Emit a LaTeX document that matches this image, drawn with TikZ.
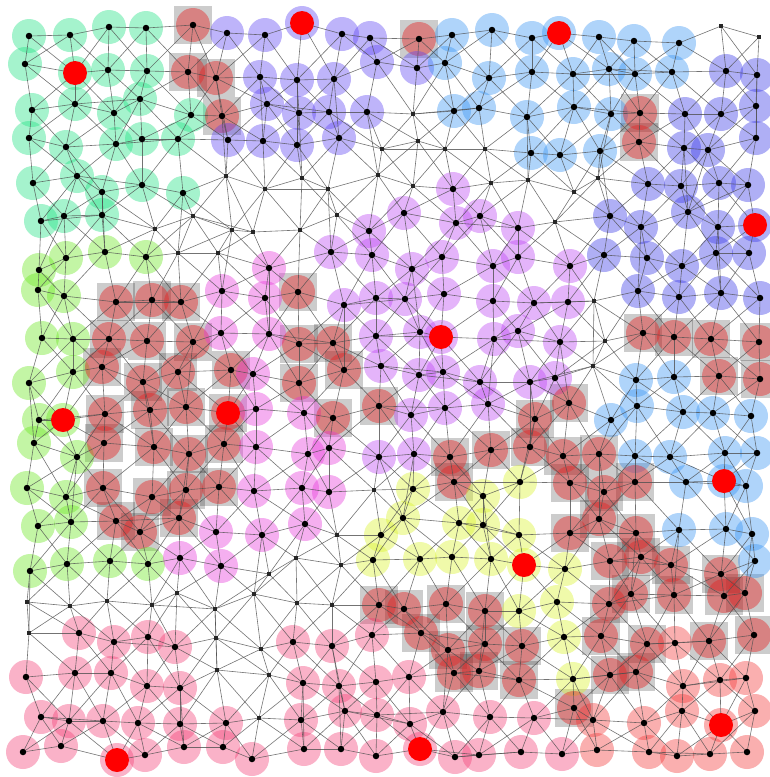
\documentclass[tikz,border=0pt]{standalone}
\definecolor{cG}{RGB}{30,225,130}
\definecolor{cL}{RGB}{105,230,30}
\definecolor{cP}{RGB}{92,67,242}
\definecolor{cB}{RGB}{55,147,242}
\definecolor{cD}{RGB}{55,55,230}
\definecolor{cQ}{RGB}{230,55,217}
\definecolor{cM}{RGB}{187,67,242}
\definecolor{cY}{RGB}{217,242,42}
\definecolor{cK}{RGB}{242,62,117}
\definecolor{cS}{RGB}{242,55,55}
\definecolor{cR}{RGB}{230,40,40}
\definecolor{lnkc}{RGB}{80,80,80}
\pgfdeclarelayer{sq}\pgfdeclarelayer{halo}\pgfdeclarelayer{lnklayer}\pgfdeclarelayer{top}
\pgfsetlayers{sq,halo,lnklayer,main,top}
\tikzset{
 bigdot/.style={circle,fill=black,inner sep=0pt,minimum size=6.5pt},
 smalldot/.style={rectangle,fill=black!85,inner sep=0pt,minimum size=3.6pt},
 dG/.style=bigdot, dL/.style=bigdot, dP/.style=bigdot, dB/.style=bigdot, dD/.style=bigdot,
 dQ/.style=bigdot, dM/.style=bigdot, dY/.style=bigdot, dK/.style=bigdot, dS/.style=bigdot,
 dR/.style=bigdot, dN/.style=smalldot,
 hG/.style={fill=cG,fill opacity=0.4}, hL/.style={fill=cL,fill opacity=0.4},
 hP/.style={fill=cP,fill opacity=0.4}, hB/.style={fill=cB,fill opacity=0.4},
 hD/.style={fill=cD,fill opacity=0.4}, hQ/.style={fill=cQ,fill opacity=0.4},
 hM/.style={fill=cM,fill opacity=0.4}, hY/.style={fill=cY,fill opacity=0.4},
 hK/.style={fill=cK,fill opacity=0.4}, hS/.style={fill=cS,fill opacity=0.4},
 hR/.style={fill=cR,fill opacity=0.45},
 graysq/.style={fill=black,fill opacity=0.2},
 lnk/.style={draw=lnkc,line width=0.6pt,draw opacity=0.8},
 redc/.style={circle,fill=red,inner sep=0pt,minimum size=24pt}
}
\def\ptlist{%
29/36/G,70/35/G,109/27/G,146/28/G,193/25/R,227/33/P,265/35/P,302/23/P,342/34/P,370/38/P,419/39/R,452/35/B,492/30/B,532/38/B,559/33/B,599/37/B,634/41/B,679/43/B,721/26/N,759/37/N,
25/64/G,75/73/G,108/70/G,147/71/G,188/72/R,216/78/R,260/77/P,297/80/P,334/79/P,377/62/P,417/68/P,445/63/B,489/78/B,532/72/B,573/74/B,609/69/B,635/74/B,672/72/B,726/71/D,757/75/D,
32/110/G,75/104/G,114/113/G,140/99/G,191/115/G,222/116/R,267/104/P,299/113/P,329/112/P,367/112/P,413/114/N,454/111/B,479/108/B,527/117/B,574/107/B,611/114/B,640/113/R,685/114/D,721/114/D,756/106/D,
29/138/G,66/147/G,116/144/G,142/139/G,178/139/G,228/140/P,263/141/P,297/145/P,339/138/P,382/149/N,418/141/N,445/149/N,485/149/N,531/153/B,560/155/B,600/151/B,639/142/R,684/148/D,708/150/D,756/138/D,
33/183/G,77/176/G,102/192/G,142/185/G,183/193/G,226/176/N,265/189/N,302/178/N,328/189/N,378/175/N,413/186/N,453/189/M,491/183/N,528/180/N,574/192/N,598/178/N,648/184/D,681/186/D,719/183/D,748/185/D,
41/221/G,64/216/G,102/215/G,155/229/N,193/216/N,232/230/N,253/232/N,300/230/N,337/215/N,369/231/M,404/213/M,456/223/M,480/216/M,518/228/M,555/222/N,610/216/D,641/227/D,688/212/D,718/227/D,755/225/D,
39/270/L,66/258/L,105/252/L,146/257/L,178/253/N,218/253/N,269/268/Q,331/252/M,372/255/M,412/269/M,442/257/M,493/266/M,518/257/M,570/266/M,604/255/D,647/258/D,682/266/D,716/253/D,749/253/D,
38/290/L,64/296/L,116/302/R,152/300/R,181/302/R,222/291/Q,265/298/Q,298/292/R,344/305/M,376/298/M,405/299/M,444/294/M,493/301/M,534/303/M,568/302/M,594/301/N,638/291/D,679/297/D,721/293/D,760/298/D,
42/338/L,73/339/L,109/339/R,147/341/R,193/342/R,221/333/Q,269/334/Q,299/344/R,333/343/R,376/336/M,420/332/M,441/337/M,494/339/M,518/331/M,560/342/M,605/341/N,643/333/R,674/337/R,711/339/R,759/342/R,
29/383/L,73/372/L,102/367/R,143/382/R,178/372/R,231/370/R,253/374/Q,299/383/R,344/370/R,381/366/M,419/375/M,443/372/M,480/382/M,530/382/M,555/378/M,593/366/N,636/380/B,674/377/B,719/376/R,760/379/R,
39/420/L,63/420/L,105/414/R,150/410/R,186/407/R,228/413/R,256/409/Q,304/413/Q,333/418/R,379/406/R,411/415/M,445/408/M,488/404/M,535/419/R,569/403/R,611/420/B,637/406/B,683/412/B,713/413/B,751/416/B,
34/443/L,77/457/L,104/443/R,154/447/R,189/454/R,224/444/R,256/447/Q,308/454/Q,329/448/Q,379/457/M,414/454/M,450/457/R,491/450/R,530/447/R,563/456/R,599/454/R,635/456/B,670/457/B,725/453/B,757/453/B,
27/488/L,66/497/L,103/488/R,152/497/R,186/490/R,219/487/R,254/491/Q,302/488/Q,329/492/Q,374/490/N,413/489/Y,454/482/R,483/496/Y,520/482/Y,570/483/R,604/492/R,635/482/R,686/482/B,724/481/B,746/486/B,
38/526/L,71/522/L,116/521/R,140/532/R,179/518/R,216/532/Q,262/535/Q,305/524/Q,337/535/N,381/535/Y,403/518/Y,459/523/Y,483/525/Y,519/535/Y,570/533/R,599/519/R,636/533/R,679/530/B,726/529/B,752/534/B,
30/571/L,67/564/L,110/561/L,148/564/L,180/558/Q,221/566/Q,269/574/N,296/558/N,341/565/N,373/560/Y,420/559/Y,452/557/Y,491/559/Y,524/565/Y,565/569/Y,610/561/R,641/557/R,671/565/R,721/574/R,755/561/B,
27/602/N,70/606/N,107/601/N,152/605/N,177/593/N,215/609/N,254/594/N,297/603/N,332/605/N,379/605/R,404/609/R,446/604/R,485/611/R,519/611/Y,557/602/Y,609/604/R,631/594/R,674/595/R,724/596/R,745/593/R,
29/633/N,79/633/K,114/642/K,148/637/K,175/647/K,216/638/N,261/649/N,293/642/K,332/646/K,372/635/K,421/633/R,448/650/R,485/644/R,522/646/R,564/637/Y,601/636/R,647/644/R,675/643/S,709/641/R,754/635/R,
26/677/K,75/673/K,111/673/K,147/686/K,180/688/K,217/670/N,269/675/N,303/683/K,339/686/K,376/682/K,409/677/K,454/673/R,479/671/R,519/680/R,573/679/Y,610/675/R,636/672/R,683/686/S,720/680/S,746/678/S,
41/717/K,69/721/K,103/721/K,138/723/K,180/724/K,226/723/K,259/718/N,301/720/K,345/711/K,377/715/K,410/724/K,443/712/K,490/717/K,534/718/K,574/708/R,593/720/S,644/723/S,682/711/S,721/725/S,755/711/S,
23/752/K,61/746/K,117/760/K,145/755/K,184/747/K,223/747/K,252/759/K,304/749/K,341/749/K,376/756/K,420/749/K,455/757/K,479/755/K,521/752/K,562/754/K,597/750/S,649/752/S,677/756/S,710/754/S,747/752/S}
\begin{document}
\begin{tikzpicture}[x=1pt,y=-1pt]
\useasboundingbox (0,0) rectangle (770,777);
\def\Rcat{R}\def\Ncat{N}
% dots (main layer) and stored coordinates
\foreach \x/\y/\cat [count=\n] in \ptlist {
  \node[d\cat] (p\n) at (\x,\y) {};
  \expandafter\xdef\csname px\n\endcsname{\x}
  \expandafter\xdef\csname py\n\endcsname{\y}
  \xdef\npts{\n}
}
% halos
\begin{pgfonlayer}{halo}
\foreach \x/\y/\cat in \ptlist {
  \edef\cc{\cat}
  \ifx\cc\Ncat\else
    \fill[h\cat] (\x,\y) circle[radius=17pt];
  \fi
}
\end{pgfonlayer}
% grey squares under selected points
\begin{pgfonlayer}{sq}
\foreach \x/\y/\cat in \ptlist {
  \edef\cc{\cat}
  \ifx\cc\Rcat
    \fill[graysq] (\x-19,\y-19) rectangle (\x+19,\y+19);
  \fi
}
\end{pgfonlayer}
% connectors
\pgfmathtruncatemacro\nlast{\npts-1}
\begin{pgfonlayer}{lnklayer}
\foreach \a in {1,...,\nlast}{
  \pgfmathtruncatemacro\lo{\a+1}
  \pgfmathtruncatemacro\hi{min(\a+60,\npts)}
  \foreach \b in {\lo,...,\hi}{
    \ifnum\numexpr(\csname px\a\endcsname-\csname px\b\endcsname)*(\csname px\a\endcsname-\csname px\b\endcsname)+(\csname py\a\endcsname-\csname py\b\endcsname)*(\csname py\a\endcsname-\csname py\b\endcsname)\relax<4400
      \draw[lnk] (p\a) -- (p\b);
    \fi
  }
}
\end{pgfonlayer}
% red centres
\begin{pgfonlayer}{top}
\foreach \x/\y [count=\k] in {75/73,302/23,559/33,755/225,441/337,63/420,228/413,724/481,524/565,117/760,420/749,721/725}
  \node[redc] (r\k) at (\x,\y) {};
\end{pgfonlayer}
\end{tikzpicture}
\end{document}
